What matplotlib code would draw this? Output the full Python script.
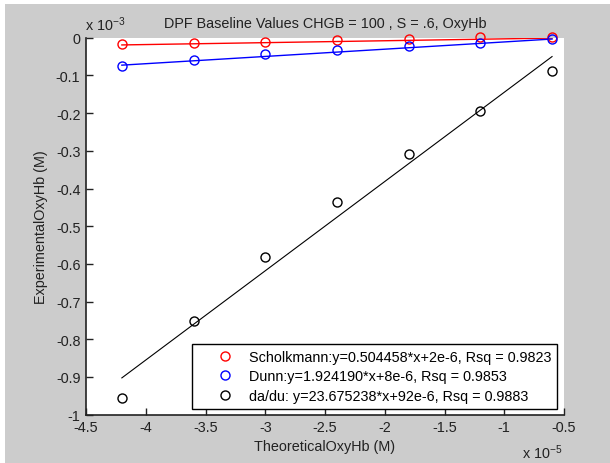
import numpy as np
import matplotlib
matplotlib.use('Agg')
import matplotlib.pyplot as plt
from matplotlib.patches import Rectangle
from matplotlib.ticker import FuncFormatter, MultipleLocator

plt.rcParams['font.family'] = ['Liberation Sans', 'DejaVu Sans']
plt.rcParams['axes.unicode_minus'] = False
plt.rcParams['mathtext.fontset'] = 'custom'
plt.rcParams['mathtext.rm'] = 'Liberation Sans'

theoretical = np.array([-4.2, -3.6, -3.0, -2.4, -1.8, -1.2, -0.6])*1e-5
scholkmann = np.array([-0.017, -0.013, -0.011, -0.005, -0.003, 0.001, 0.003])*1e-3
dunn = np.array([-0.075, -0.058, -0.044, -0.033, -0.023, -0.015, -0.0035])*1e-3
dadu = np.array([-0.956, -0.751, -0.581, -0.435, -0.309, -0.194, -0.089])*1e-3

# fit coefficients as printed in the legend
slopes = [0.504458, 1.924190, 23.675238]
intercepts = [2e-6, 8e-6, 92e-6]
labels = ['Scholkmann:y=0.504458*x+2e-6, Rsq = 0.9823',
          'Dunn:y=1.924190*x+8e-6, Rsq = 0.9853',
          'da/du: y=23.675238*x+92e-6, Rsq = 0.9883']
colors = ['#ff0000', '#0000ff', 'black']
series = [scholkmann, dunn, dadu]

FS = 10.4
W, H = 610, 464
fig = plt.figure(figsize=(W/100, H/100), dpi=100, facecolor='white')
fig.patches.append(Rectangle((5/W, 0), 1, (H-5)/H, transform=fig.transFigure,
                             facecolor='#cccccc', edgecolor='none', zorder=-1))

ax = fig.add_axes([86/W, 1-415.7/H, 478/W, 377/H])

for yv, c, lab in zip(series, colors, labels):
    ax.plot(theoretical, yv, 'o', mfc='none', mec=c, ms=6.5, mew=1, label=lab, clip_on=False, zorder=3)
for s, b, c in zip(slopes, intercepts, colors):
    lw = 0.8 if c == 'black' else 1.0
    ax.plot(theoretical, s*theoretical+b, '-', color=c, lw=lw, zorder=2)

ax.set_xlim(-4.5e-5, -0.5e-5)
ax.set_ylim(-1e-3, 0)
ax.xaxis.set_major_locator(MultipleLocator(0.5e-5))
ax.yaxis.set_major_locator(MultipleLocator(0.1e-3))
ax.xaxis.set_major_formatter(FuncFormatter(lambda v, p: '%g' % (round(v/1e-5, 6)+0.0)))
ax.yaxis.set_major_formatter(FuncFormatter(lambda v, p: '%g' % (round(v/1e-3, 6)+0.0)))

for side in ['top', 'right']:
    ax.spines[side].set_visible(False)
for side in ['left', 'bottom']:
    ax.spines[side].set_linewidth(1.2)
    ax.spines[side].set_color('#222222')
ax.tick_params(direction='in', length=5, width=1, pad=4, labelsize=FS, colors='#222222', labelcolor='#222222')

ax.set_title('DPF Baseline Values CHGB = 100 , S = .6, OxyHb', fontsize=FS, pad=8, color='#222222')
ax.set_xlabel('TheoreticalOxyHb (M)', fontsize=FS, labelpad=3.5, color='#222222')
ax.set_ylabel('ExperimentalOxyHb (M)', fontsize=FS, color='#222222')
ax.yaxis.set_label_coords(-0.079, 0.5)

fig.text(85/W, 1-31/H, r'x 10$^{\mathregular{-3}}$', fontsize=FS, ha='left', va='baseline', color='#222222')
fig.text(562/W, 1-459.5/H, r'x 10$^{\mathregular{-5}}$', fontsize=FS, ha='right', va='baseline', color='#222222')

leg = ax.legend(loc='lower right', bbox_to_anchor=(0.985, 0.015), fontsize=FS, frameon=True,
                fancybox=False, edgecolor='black', framealpha=1, borderaxespad=0,
                handlelength=3.78, handletextpad=-0.24, borderpad=0.4, labelspacing=0.4)
leg.get_frame().set_linewidth(1)

fig.savefig('out.png', dpi=100)
